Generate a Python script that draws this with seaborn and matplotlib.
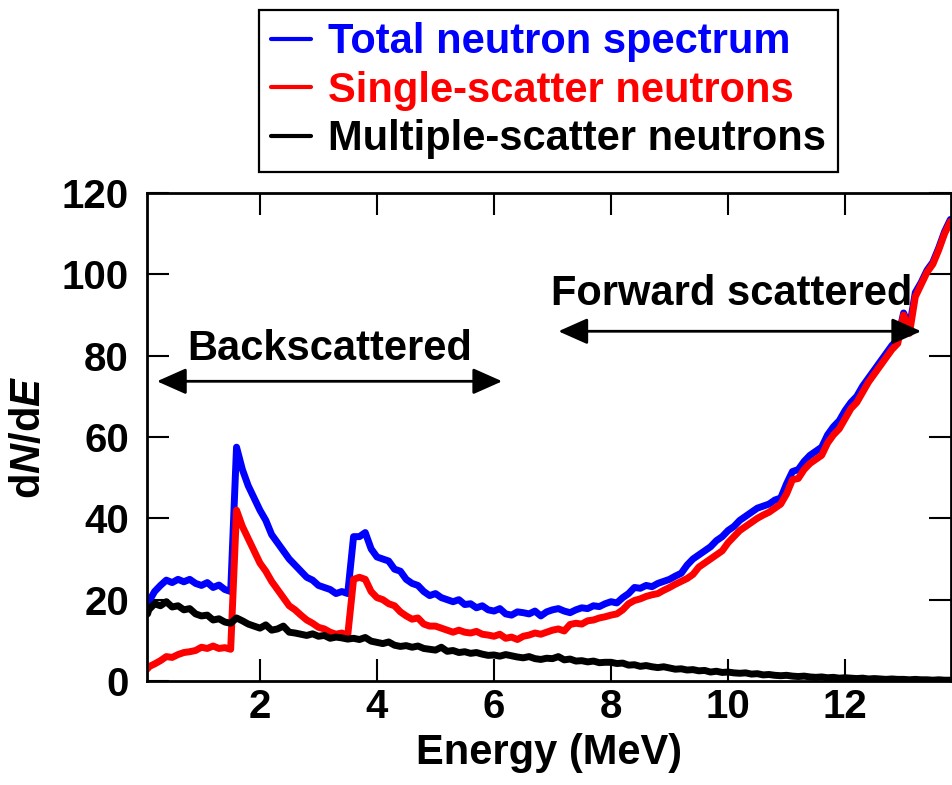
import numpy as np
import pandas as pd
import matplotlib
matplotlib.use("Agg")
import matplotlib.pyplot as plt
import seaborn as sns

# energy bins (MeV)
energy_mev = [
    0.08, 0.1, 0.2, 0.3, 0.4, 0.5, 0.6, 0.7, 0.8, 0.9,
    1.0, 1.1, 1.2, 1.3, 1.4, 1.5, 1.6, 1.7, 1.8, 1.9,
    2.0, 2.1, 2.2, 2.3, 2.4, 2.5, 2.6, 2.7, 2.8, 2.9,
    3.0, 3.1, 3.2, 3.3, 3.4, 3.5, 3.6, 3.7, 3.8, 3.9,
    4.0, 4.1, 4.2, 4.3, 4.4, 4.5, 4.6, 4.7, 4.8, 4.9,
    5.0, 5.1, 5.2, 5.3, 5.4, 5.5, 5.6, 5.7, 5.8, 5.9,
    6.0, 6.1, 6.2, 6.3, 6.4, 6.5, 6.6, 6.7, 6.8, 6.9,
    7.0, 7.1, 7.2, 7.3, 7.4, 7.5, 7.6, 7.7, 7.8, 7.9,
    8.0, 8.1, 8.2, 8.3, 8.4, 8.5, 8.6, 8.7, 8.8, 8.9,
    9.0, 9.1, 9.2, 9.3, 9.4, 9.5, 9.6, 9.7, 9.8, 9.9,
    10.0, 10.1, 10.2, 10.3, 10.4, 10.5, 10.6, 10.7, 10.8, 10.9,
    11.0, 11.1, 11.2, 11.3, 11.4, 11.5, 11.6, 11.7, 11.8, 11.9,
    12.0, 12.1, 12.2, 12.3, 12.4, 12.5, 12.6, 12.7, 12.8, 12.9,
    13.0, 13.1, 13.2, 13.3, 13.4, 13.5, 13.6, 13.7, 13.8,
]

# total neutron spectrum (blue)
total_dnde = [
    18, 19.5, 22, 23.5, 24.8, 24.2, 25, 24.4, 25, 24,
    23.5, 24.2, 23, 23.6, 22.5, 22, 57.5, 52, 48, 45,
    42, 39.5, 36, 34, 32, 30, 28.5, 27, 25.5, 24.8,
    23.5, 23, 22.5, 21.5, 22, 21.5, 35.5, 35.5, 36.5, 32.5,
    30.5, 30, 29.5, 27.5, 27, 25, 24, 23.5, 22, 21,
    21.5, 20.5, 20, 19.5, 20, 18.8, 19, 18, 18.5, 17.5,
    17.2, 17.8, 16.5, 16.2, 17, 16.8, 16.5, 17.2, 16, 17,
    17.5, 17.8, 17.2, 16.8, 17.5, 18, 17.8, 18.5, 18.3, 19,
    19.5, 19.2, 20.5, 21.5, 23, 22.8, 23.5, 23.2, 24, 24.5,
    25, 25.8, 26.5, 28.5, 30, 31, 32, 33, 34.5, 35.5,
    37, 38, 39.5, 40.5, 41.5, 42.5, 43, 43.5, 44.5, 45,
    48.5, 51.5, 52, 54, 55.5, 56.5, 57.5, 60.5, 62.5, 64,
    66.5, 68.5, 70, 72.5, 74.5, 76.5, 78.5, 80.5, 82.5, 84,
    90.5, 87, 95.5, 98, 101, 103, 106.5, 110.5, 113.5,
]

# single-scatter neutrons (red)
single_dnde = [
    3, 3.5, 4.2, 5, 6, 5.8, 6.5, 7, 7.2, 7.5,
    8.3, 8, 8.6, 8, 8.2, 7.8, 42, 38, 35, 32,
    29, 27, 24.5, 22.5, 20.5, 18.5, 17.5, 16.2, 15, 14.2,
    13.2, 12.8, 12, 11.5, 11.8, 11.2, 25, 25.5, 25, 22,
    20.5, 20, 19, 18.5, 17, 16, 15.2, 15.5, 14, 13.5,
    13.5, 13, 12.5, 12, 12.5, 12, 11.8, 12.2, 11.5, 11.3,
    11, 11.5, 10.5, 10.8, 10.2, 11, 11.3, 11.8, 11.5, 12,
    12.5, 12.8, 12.3, 13.9, 14.2, 14, 14.8, 15, 15.5, 15.8,
    16.2, 16.5, 17.5, 19, 19.8, 20.2, 20.8, 21.2, 21.5, 22.3,
    23, 23.8, 24.5, 25.2, 26.2, 28, 29, 30, 31, 32,
    34, 35.5, 37, 38, 39, 40, 40.8, 41.5, 42.5, 43.5,
    46, 49.5, 49.8, 52, 53.5, 54.5, 55.5, 58.5, 60.5, 62,
    64.5, 67, 68.5, 71, 73.5, 75.5, 77.5, 79.5, 81.5, 83,
    90, 85.5, 94.5, 97.5, 100.5, 102.5, 106, 110, 113,
]

# multiple-scatter neutrons (black)
multiple_dnde = [
    16.5, 17.5, 19, 18.5, 19.5, 18.2, 18.5, 17.5, 17.8, 16.5,
    16, 16.2, 15, 15.3, 14.5, 14.2, 15.5, 14.8, 14, 13.5,
    13, 13.8, 12.5, 12.8, 13.5, 12, 11.8, 11.5, 11.2, 11.6,
    11, 11.2, 10.5, 10.8, 10.6, 10.3, 10.5, 10.2, 10.7, 9.8,
    9.5, 9.2, 9.6, 8.8, 8.5, 8.7, 8.3, 8.6, 8, 7.8,
    7.6, 8.3, 7.3, 7.5, 7, 7.2, 6.8, 7, 6.6, 6.3,
    6.4, 6.1, 6.5, 6.2, 5.9, 5.7, 6, 5.5, 5.3, 5.6,
    5.5, 6, 5.2, 5.4, 4.9, 5, 4.7, 4.9, 4.5, 4.6,
    4.6, 4.3, 4.4, 3.9, 4, 3.6, 3.8, 3.5, 3.3, 3.5,
    3.2, 2.9, 3, 2.7, 2.8, 2.5, 2.6, 2.2, 2.4, 2.1,
    2.2, 2, 1.9, 2, 1.7, 1.8, 1.5, 1.6, 1.4, 1.3,
    1.4, 1.2, 1.1, 1.2, 1, 0.9, 1, 0.8, 0.9, 0.7,
    0.8, 0.7, 0.6, 0.7, 0.5, 0.6, 0.5, 0.4, 0.5, 0.4,
    0.4, 0.3, 0.4, 0.3, 0.3, 0.2, 0.3, 0.2, 0.2,
]

series_names = ["Total neutron spectrum", "Single-scatter neutrons", "Multiple-scatter neutrons"]
series_colors = ["#0000ff", "#ff0000", "#000000"]

df = pd.concat([
    pd.DataFrame({"Energy": energy_mev, "dNdE": total_dnde, "kind": series_names[0]}),
    pd.DataFrame({"Energy": energy_mev, "dNdE": single_dnde, "kind": series_names[1]}),
    pd.DataFrame({"Energy": energy_mev, "dNdE": multiple_dnde, "kind": series_names[2]}),
])

sns.set_style("ticks")
plt.rcParams['font.family'] = ['Liberation Sans', 'DejaVu Sans']
plt.rcParams['font.weight'] = 'bold'
plt.rcParams['axes.labelweight'] = 'bold'
plt.rcParams['text.color'] = 'black'
plt.rcParams['axes.labelcolor'] = 'black'
plt.rcParams['xtick.color'] = 'black'
plt.rcParams['ytick.color'] = 'black'
plt.rcParams['mathtext.fontset'] = 'custom'
plt.rcParams['mathtext.rm'] = 'Liberation Sans:bold'
plt.rcParams['mathtext.it'] = 'Liberation Sans:italic:bold'

fig = plt.figure(figsize=(9.53, 7.85), dpi=100)
ax = fig.add_axes([147/953, 104/785, 804/953, 488/785])

sns.lineplot(data=df, x="Energy", y="dNdE", hue="kind", hue_order=series_names,
             palette=series_colors, estimator=None, sort=False, lw=5,
             legend=False, ax=ax)

ax.set_xlim(0.07, 13.81)
ax.set_ylim(0, 120)
ax.set_xticks([2, 4, 6, 8, 10, 12])
ax.set_yticks([0, 20, 40, 60, 80, 100, 120])
ax.tick_params(direction="in", length=16, width=1.5, top=True, right=True,
               labelsize=29, colors="black")
ax.tick_params(axis="x", pad=5)
ax.tick_params(axis="y", pad=13)
for sp in ax.spines.values():
    sp.set_linewidth(2)
    sp.set_color("black")

ax.set_xlabel("Energy (MeV)", fontsize=30, labelpad=5, color="black")
ax.set_ylabel("d$N$/d$E$", fontsize=30, labelpad=9, color="black")

# arrows and region labels
arr = dict(arrowstyle="<|-|>,head_length=0.9,head_width=0.4", color="black",
           lw=2, mutation_scale=20, shrinkA=0, shrinkB=0)
ax.annotate("", xy=(0.24, 73.7), xytext=(6.14, 73.7), arrowprops=arr)
ax.annotate("", xy=(7.1, 86), xytext=(13.3, 86), arrowprops=arr)
ax.text(3.19, 78.9, "Backscattered", fontsize=30, ha="center", va="baseline", color="black")
ax.text(10.06, 92.4, "Forward scattered", fontsize=30, ha="center", va="baseline", color="black")

leg = ax.legend(ax.get_lines()[:3], series_names, loc="upper left",
                bbox_to_anchor=(259/953, 1 - 10/785), bbox_transform=fig.transFigure,
                borderaxespad=0, fontsize=30, frameon=True, fancybox=False,
                framealpha=1, edgecolor="black", handlelength=0.95,
                handletextpad=0.4, labelspacing=0.2, borderpad=0.3)
leg.get_frame().set_linewidth(1.6)
for txt, col in zip(leg.get_texts(), series_colors):
    txt.set_color(col)
for ln in leg.get_lines():
    ln.set_linewidth(3)

fig.savefig("out.png", dpi=100)
